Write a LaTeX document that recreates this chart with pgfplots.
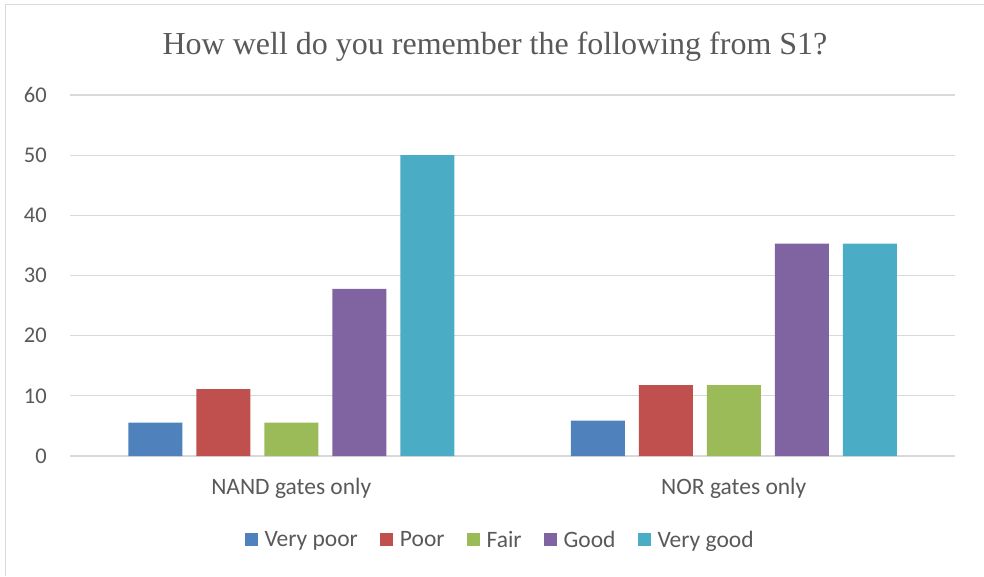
\documentclass[border=0pt]{standalone}
\usepackage{fontspec}
\setmainfont{Carlito}
\newfontfamily\titlefont{Liberation Serif}
\usepackage{pgfplots}
\pgfplotsset{compat=1.18}
\definecolor{c1}{HTML}{4F81BD}
\definecolor{c2}{HTML}{C0504D}
\definecolor{c3}{HTML}{9BBB59}
\definecolor{c4}{HTML}{8064A2}
\definecolor{c5}{HTML}{4BACC6}
\definecolor{txt}{HTML}{595959}
\definecolor{grd}{HTML}{D9D9D9}
\begin{document}
\begin{tikzpicture}
\path[use as bounding box] (0,0) rectangle (984pt,576pt);
\draw[grd, line width=1.5pt] (5.5pt,0pt) -- (5.5pt,571.5pt) -- (984pt,571.5pt);
\node[anchor=base, text=txt, font=\titlefont\fontsize{32}{38}\selectfont] at (495pt,521pt) {How well do you remember the following from S1?};
\begin{axis}[
  at={(70pt,120pt)}, anchor=south west,
  scale only axis, width=885pt, height=361pt,
  ybar=14pt, bar width=54pt,
  xmin=-0.5, xmax=1.5, ymin=0, ymax=60,
  xtick={0,1}, xticklabels={NAND gates only, NOR gates only},
  ytick={0,10,...,60},
  axis line style={draw=none},
  major tick length=0pt,
  ymajorgrids, grid style={grd, line width=1.3pt},
  tick label style={text=txt, font=\fontsize{22.5}{26}\selectfont},
  xticklabel style={font=\fontsize{23.5}{27}\selectfont},
  /pgf/number format/assume math mode=true,
  yticklabel style={inner sep=0pt, xshift=-23pt},
  xticklabel style={inner sep=0pt, yshift=-22pt},
  legend columns=-1,
  legend style={at={(0.486,-0.2327)}, anchor=center, draw=none, fill=none,
    font=\fontsize{23.5}{27}\selectfont, text=txt,
    /tikz/every odd column/.append style={column sep=5pt},
    /tikz/every even column/.append style={column sep=20pt}},
  legend image code/.code={\fill[#1] (0pt,-6pt) rectangle (13pt,7pt);},
]
\addplot[fill=c1, draw=none] coordinates {(0,5.56) (1,5.88)};
\addplot[fill=c2, draw=none] coordinates {(0,11.11) (1,11.76)};
\addplot[fill=c3, draw=none] coordinates {(0,5.56) (1,11.76)};
\addplot[fill=c4, draw=none] coordinates {(0,27.78) (1,35.29)};
\addplot[fill=c5, draw=none] coordinates {(0,50.00) (1,35.29)};
\legend{Very poor, Poor, Fair, Good, Very good}
\end{axis}
\end{tikzpicture}
\end{document}
